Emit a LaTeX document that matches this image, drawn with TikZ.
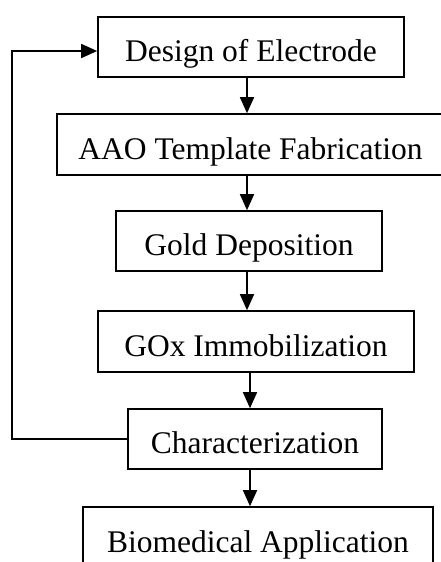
\documentclass[tikz,border=0pt]{standalone}
\usepackage{fontspec}
\setmainfont{Liberation Serif}
\usetikzlibrary{arrows.meta}
\usetikzlibrary{positioning}

\tikzset{
  stepbox/.style={draw, line width=1.6pt, inner sep=0pt, text height=29pt, text depth=0pt,
    font=\fontsize{31.5}{38}\selectfont},
  flow/.style={-{Triangle[width=14pt,length=16pt]}, line width=1.6pt},
}

\begin{document}
\begin{tikzpicture}[x=1pt, y=-1pt]
  \useasboundingbox (0,0) rectangle (441,562);

  % process steps
  \node[stepbox, minimum width=306pt, minimum height=60pt] (design) at (251,47) {Design of Electrode};
  \node[stepbox, minimum width=387pt, minimum height=61pt] (aao) at (250.5,144.5) {AAO Template Fabrication};
  \node[stepbox, minimum width=266pt, minimum height=60pt] (gold) at (249,241) {Gold Deposition};
  \node[stepbox, minimum width=316pt, minimum height=61pt] (gox) at (256,341.5) {GOx Immobilization};
  \node[stepbox, minimum width=254pt, minimum height=60pt] (char) at (255,439) {Characterization};
  \node[stepbox, minimum width=350pt, minimum height=62pt] (bio) at (258,538) {Biomedical Application};

  \coordinate (col) at (247,0);
  \coordinate (col2) at (250,0);
  \coordinate (back) at (12,0);

  \draw[flow] (design.south -| col) -- (aao.north -| col);
  \draw[flow] (aao.south -| col) -- (gold.north -| col);
  \draw[flow] (gold.south -| col) -- (gox.north -| col);
  \draw[flow] (gox.south -| col2) -- (char.north -| col2);
  \draw[flow] (char.south -| col2) -- (bio.north -| col2);

  % feedback loop
  \draw[flow] (char.west) -- (char.west -| back) |- ([yshift=-4pt]design.west);
\end{tikzpicture}
\end{document}
